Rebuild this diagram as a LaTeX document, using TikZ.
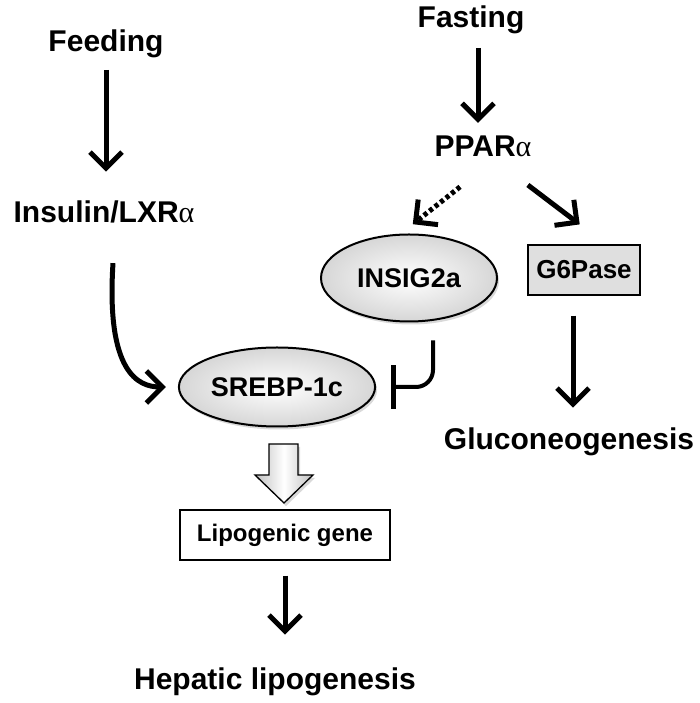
\documentclass[tikz,border=0pt]{standalone}
\usepackage{fontspec}
\setmainfont{Liberation Sans}
\newfontfamily\grkfont{Liberation Serif}
\usetikzlibrary{arrows.meta,shapes.geometric,shadows}
\newcommand{\galpha}{{\grkfont\mdseries α}}
\begin{document}
\begin{tikzpicture}[x=1pt, y=1pt,
      lbl/.style={anchor=base, font=\fontsize{30}{36}\selectfont\bfseries},
      oval/.style={ellipse, draw, line width=2pt, inner color=white, outer color=gray!32,
                   drop shadow={shadow xshift=2pt, shadow yshift=-3pt, opacity=0.3},
                   font=\fontsize{27}{32}\selectfont\bfseries},
      gbox/.style={draw, line width=1.3pt, font=\fontsize{26}{32}\selectfont\bfseries},
      arr/.style={-{Straight Barb[length=16pt, width=32pt]}, line width=5pt},
      darr/.style={arr, dash pattern=on 4pt off 3pt},
      inh/.style={-{Bar[width=44pt, line width=5pt]}, line width=4pt, rounded corners=17pt},
      blkarr/.style={draw, line width=1.3pt, left color=gray!50, right color=gray!50, middle color=white,
                     drop shadow={shadow xshift=2pt, shadow yshift=-3pt, opacity=0.3}}]
    \useasboundingbox (0,0) rectangle (700,703);
    \node[lbl] (feed) at (106,651) {Feeding};
    \node[lbl] (ins) at (104,480) {Insulin/LXR\galpha};
    \node[lbl] (fast) at (471,675) {Fasting};
    \node[lbl] (ppar) at (483,546) {PPAR\galpha};
    \node[oval, minimum width=176pt, minimum height=87pt] (insig) at (409,425) {INSIG2a};
    \node[gbox, fill=gray!25, minimum width=112pt, minimum height=50pt] (g6p) at (584,433) {G6Pase};
    \node[lbl] (gluco) at (569,253) {Gluconeogenesis};
    \node[oval, minimum width=194pt, minimum height=79pt] (srebp) at (277,316) {SREBP-1c};
    \node[gbox, fill=white, minimum width=210pt, minimum height=50pt, font=\fontsize{24}{30}\selectfont\bfseries] (lipo) at (285,168) {Lipogenic gene};
    \node[lbl] (hep) at (275,13) {Hepatic lipogenesis};
    \draw[arr, shorten <=8pt, shorten >=26pt] (feed.south) -- (feed.south |- ins.north);
    \draw[arr, shorten <=10pt, shorten >=10pt] ([xshift=7pt]fast.south) -- ([xshift=7pt]fast.south |- ppar.north);
    \draw[darr, shorten <=42pt, shorten >=15pt] ([xshift=10pt]ppar.south) -- ([xshift=-8pt]insig.north);
    \draw[arr, shorten <=40pt, shorten >=33pt] ([xshift=13pt]ppar.south) -- ([xshift=22pt]g6p.north);
    \draw[arr, shorten <=20pt, shorten >=17pt] ([xshift=-11pt]g6p.south) -- ([xshift=-11pt]g6p.south |- gluco.north);
    \draw[arr] ([xshift=9pt,yshift=-36pt]ins.south) .. controls ([xshift=2pt,yshift=-145pt]ins.south) and ([xshift=-40pt]srebp.west) .. ([xshift=-12pt]srebp.west);
    \draw[inh] ([xshift=24pt,yshift=-18pt]insig.south) |- ([xshift=15pt]srebp.east);
    \draw[blkarr] (269,259) -- (298,259) -- (298,228) -- (313,228) -- (284,200) -- (255,228) -- (269,228) -- cycle;
    \draw[arr, shorten <=15pt, shorten >=30pt] (lipo.south) -- (lipo.south |- hep.north);
\end{tikzpicture}
\end{document}
